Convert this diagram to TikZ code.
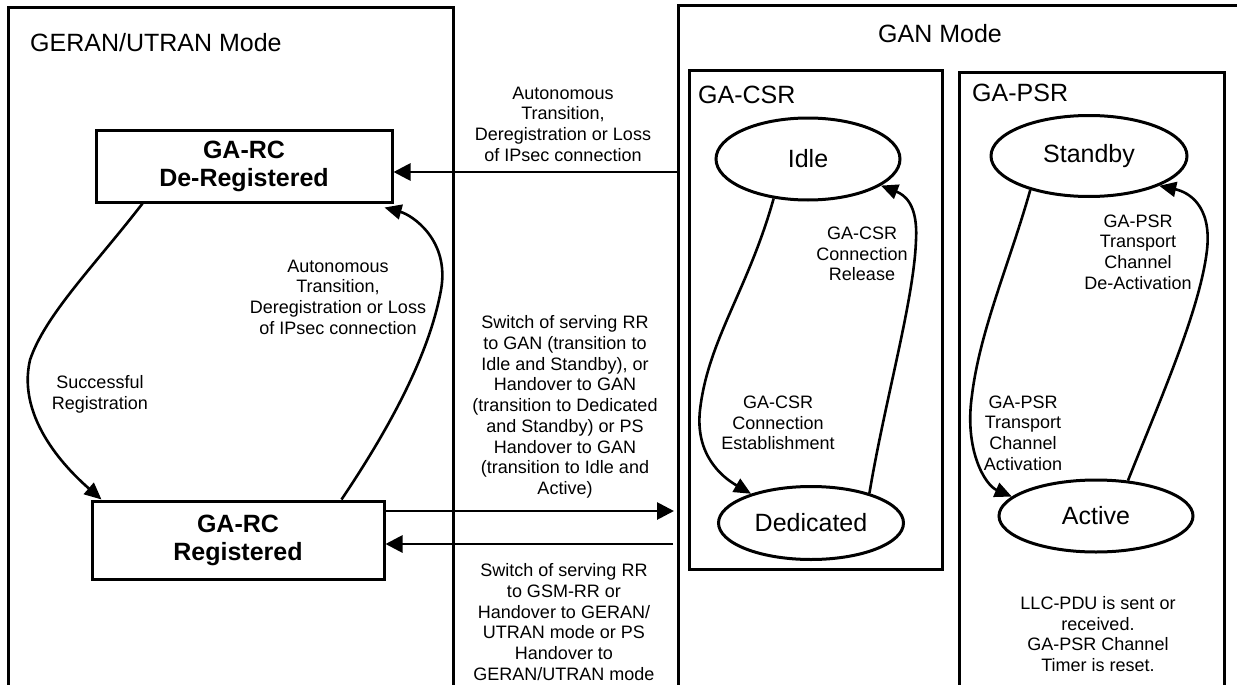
\documentclass[tikz,border=0pt]{standalone}
\usepackage{fontspec}
\setmainfont{Liberation Sans}
\usetikzlibrary{shapes.geometric,arrows.meta}
\begin{document}
\begin{tikzpicture}[x=1pt,y=-1pt,
  frame/.style={line width=3pt},
  rcbox/.style={draw,line width=3pt,rectangle,inner sep=0pt,align=center,
    font=\fontsize{25}{28}\selectfont\bfseries},
  state/.style={draw,line width=3pt,ellipse,inner sep=0pt,
    font=\fontsize{25}{28}\selectfont},
  lbl/.style={align=center,inner sep=0pt,font=\fontsize{18}{20.7}\selectfont},
  title/.style={anchor=base west,inner sep=0pt,font=\fontsize{25}{28}\selectfont},
  arr/.style={line width=2.8pt,-{Triangle[length=17pt,width=17pt]}},
  carr/.style={line width=2.6pt,-{Triangle[length=17pt,width=15pt]}}]
\useasboundingbox (0,0) rectangle (1237,685);
\clip (0,0) rectangle (1237,685);
\fill[white] (0,0) rectangle (1237,685);
% containers
\draw[frame] (8,8) rectangle (453,720);
\draw[frame] (678,6) rectangle (1250,720);
\draw[frame] (689,71) rectangle (942,569);
\draw[frame] (959,73) rectangle (1224,720);
\node[title] (tgeran) at (30,52) {GERAN/UTRAN Mode};
\node[title] (tgan) at (878,43) {GAN Mode};
\node[title] (tcsr) at (698,103) {GA-CSR};
\node[title] (tpsr) at (972,102) {GA-PSR};
% states
\node[rcbox,minimum width=296pt,minimum height=72pt] (dereg) at (244,166) {GA-RC\\De-Registered};
\node[rcbox,minimum width=292pt,minimum height=78pt] (reg) at (238,540) {GA-RC\\Registered};
\node[state,minimum width=184pt,minimum height=82pt] (idle) at (808,159) {Idle};
\node[state,minimum width=185pt,minimum height=73pt] (ded) at (811,523) {Dedicated};
\node[state,minimum width=196pt,minimum height=81pt] (stand) at (1089,156) {Standby};
\node[state,minimum width=194pt,minimum height=72pt] (act) at (1096,516) {Active};
% GAN edge coordinates
\coordinate (g1) at (678,172);
\coordinate (g2) at (674,511);
\coordinate (g3) at (673,544);
% horizontal arrows
\draw[arr] (g1) -- ([yshift=-6pt]dereg.east);
\draw[arr] ([yshift=29pt]reg.east) -- (g2);
\draw[arr] (g3) -- ([yshift=-4pt]reg.east);
% curved arrows, left box
\draw[carr] ([xshift=48pt]dereg.south west) .. controls (95,265) and (45,315) .. (30,360)
  .. controls (16,420) and (70,472) .. ([xshift=11pt]reg.north west);
\draw[carr] ([xshift=251pt]reg.north west) .. controls (395,420) and (430,350) .. (441,290)
  .. controls (450,240) and (412,215) .. ([xshift=-9pt,yshift=-4pt]dereg.south east);
% GA-CSR
\draw[carr] (idle.-131) .. controls (748,290) and (708,340) .. (700,410)
  .. controls (695,455) and (722,477) .. (ded.154);
\draw[carr] (ded.27) .. controls (885,400) and (914,300) .. (916,240)
  .. controls (918,205) and (905,195) .. (idle.-20);
% GA-PSR
\draw[carr] (stand.-150) .. controls (1010,262) and (980,330) .. (972,395)
  .. controls (964,450) and (985,485) .. (act.167);
\draw[carr] (act.48) .. controls (1160,400) and (1200,310) .. (1207,250)
  .. controls (1212,205) and (1188,192) .. (stand.-23);
% labels
\node[lbl] (l1) at (563,124) {Autonomous\\Transition,\\Deregistration or Loss\\of IPsec connection};
\node[lbl] (l2) at (565,407) {Switch of serving RR\\to GAN (transition to\\Idle and Standby), or\\Handover to GAN\\(transition to Dedicated\\and Standby) or PS\\Handover to GAN\\(transition to Idle and\\Active)};
\node[lbl] (l3) at (564,622) {Switch of serving RR\\to GSM-RR or\\Handover to GERAN/\\UTRAN mode or PS\\Handover to\\GERAN/UTRAN mode};
\node[lbl] (l4) at (100,394) {Successful\\Registration};
\node[lbl] (l5) at (338,297) {Autonomous\\Transition,\\Deregistration or Loss\\of IPsec connection};
\node[lbl] (l6) at (778,423) {GA-CSR\\Connection\\Establishment};
\node[lbl] (l7) at (862,254) {GA-CSR\\Connection\\Release};
\node[lbl] (l8) at (1023,433) {GA-PSR\\Transport\\Channel\\Activation};
\node[lbl] (l9) at (1138,252) {GA-PSR\\Transport\\Channel\\De-Activation};
\node[lbl] (l10) at (1098,634) {LLC-PDU is sent or\\received.\\GA-PSR Channel\\Timer is reset.};
\end{tikzpicture}
\end{document}
